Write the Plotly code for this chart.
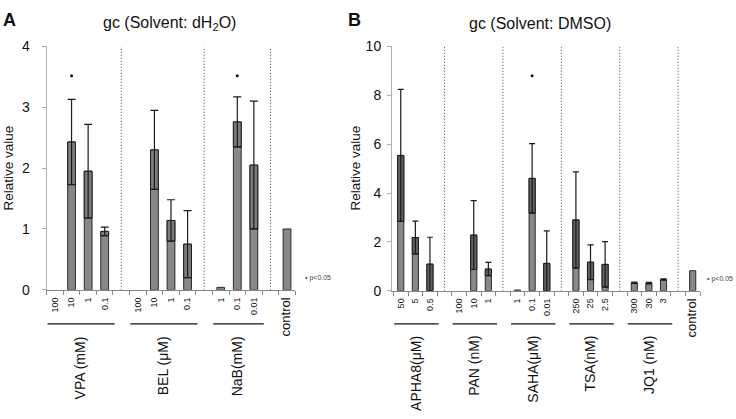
import plotly.graph_objects as go

# ---------------- data ----------------
A_groups = ["VPA (mM)", "BEL (μM)", "NaB(mM)"]
A_doses = [["100", "10", "1", "0.1"], ["100", "10", "1", "0.1"], ["1", "0.1", "0.01"]]
A_mean = [[0, 2.43, 1.95, 0.96], [0, 2.30, 1.14, 0.75], [0.04, 2.76, 2.05]]
A_err = [[0, 0.70, 0.77, 0.07], [0, 0.65, 0.34, 0.55], [0, 0.41, 1.05]]
A_star = [[None, 3.52, None, None], [None, None, None, None], [None, 3.52, None]]
A_control = 1.0

B_groups = ["APHA8(μM)", "PAN (nM)", "SAHA(μM)", "TSA(nM)", "JQ1 (nM)"]
B_doses = [["50", "5", "0.5"], ["100", "10", "1"], ["1", "0.1", "0.01"],
           ["250", "25", "2.5"], ["300", "30", "3"]]
B_mean = [[5.54, 2.18, 1.09], [0, 2.28, 0.89], [0.03, 4.60, 1.12],
          [2.90, 1.17, 1.08], [0.33, 0.31, 0.46]]
B_err = [[2.70, 0.67, 1.10], [0, 1.41, 0.27], [0, 1.42, 1.33],
         [1.97, 0.71, 0.93], [0.03, 0.03, 0.03]]
B_star = [[None] * 3, [None] * 3, [None, 8.8, None], [None] * 3, [None] * 3]
B_control = 0.82

FONT = "Liberation Sans, Arial, Helvetica, sans-serif"
W, H = 736, 419


def layout_groups(doses, mean, err, star, control):
    xs, labels, ms, es, st, seps, spans = [], [], [], [], [], [], []
    pos = 0
    for g, d in enumerate(doses):
        start = pos
        for i, lab in enumerate(d):
            xs.append(pos)
            labels.append(lab)
            ms.append(mean[g][i])
            es.append(err[g][i])
            st.append(star[g][i])
            pos += 1
        spans.append((start, pos - 1))
        seps.append(pos)
        pos += 1
    xs.append(pos)
    labels.append("<span style='font-size:13px'>control</span>")
    ms.append(control)
    es.append(0)
    st.append(None)
    return xs, labels, ms, es, st, seps, spans, pos


fig = go.Figure()

panels = [
    dict(name="A", groups=A_groups, doses=A_doses, mean=A_mean, err=A_err, star=A_star,
         control=A_control, xa="x", ya="y", ymax=4, dtick=1, bw=0.47, cap=4,
         xdom=[46.7 / W, 295.3 / W], xr=[-0.5, 14.5], ydom=[1 - 293 / H, 1 - 40 / H],
         standoff=9, boxcol="#7c7c7c"),
    dict(name="B", groups=B_groups, doses=B_doses, mean=B_mean, err=B_err, star=B_star,
         control=B_control, xa="x2", ya="y2", ymax=10, dtick=2, bw=0.42, cap=3,
         xdom=[392 / W, 700 / W], xr=[-0.6, 20.5], ydom=[1 - 294 / H, 1 - 40 / H],
         standoff=3, boxcol="#626262"),
]

shapes, annotations = [], []
for p in panels:
    xs, labels, ms, es, st, seps, spans, last = layout_groups(
        p["doses"], p["mean"], p["err"], p["star"], p["control"])
    # main bars (zero values are not drawn)
    mx = [x for x, m in zip(xs, ms) if m > 0]
    my = [m for m in ms if m > 0]
    fig.add_trace(go.Bar(x=mx, y=my, width=p["bw"], marker=dict(color="#888888",
                  line=dict(color="#2a2a2a", width=1)), xaxis=p["xa"], yaxis=p["ya"],
                  showlegend=False, hoverinfo="skip"))
    # darker box between mean-err and mean
    bx = [x for x, e in zip(xs, es) if e > 0.05]
    bb = [max(m - e, 0) for m, e in zip(ms, es) if e > 0.05]
    bh = [m - max(m - e, 0) for m, e in zip(ms, es) if e > 0.05]
    fig.add_trace(go.Bar(x=bx, y=bh, base=bb, width=p["bw"], marker=dict(color=p["boxcol"],
                  line=dict(color="#1e1e1e", width=1)), xaxis=p["xa"], yaxis=p["ya"],
                  showlegend=False, hoverinfo="skip"))
    # error bars
    ex = [x for x, e in zip(xs, es) if e > 0]
    ey = [m for m, e in zip(ms, es) if e > 0]
    ee = [e for e in es if e > 0]
    fig.add_trace(go.Scatter(x=ex, y=ey, mode="markers", marker=dict(size=0.1, color="rgba(0,0,0,0)"),
                  error_y=dict(type="data", array=ee, color="#1a1a1a", thickness=1.2, width=p["cap"]),
                  xaxis=p["xa"], yaxis=p["ya"], showlegend=False, hoverinfo="skip", cliponaxis=False))
    # significance stars
    sx = [x for x, s in zip(xs, st) if s is not None]
    sy = [s for s in st if s is not None]
    fig.add_trace(go.Scatter(x=sx, y=sy, mode="markers", marker=dict(size=3, color="#111"),
                  xaxis=p["xa"], yaxis=p["ya"], showlegend=False, hoverinfo="skip"))
    # dotted separators
    for s in seps:
        shapes.append(dict(type="line", xref=p["xa"], yref=p["ya"], x0=s, x1=s, y0=0,
                           y1=p["ymax"], line=dict(color="#444", width=1, dash="1px,2px")))
    # group underline + label
    for (a, b), gname in zip(spans, p["groups"]):
        shapes.append(dict(type="line", xref=p["xa"], yref="paper", x0=a - 0.45, x1=b + 0.6,
                           y0=1 - 328.5 / H, y1=1 - 328.5 / H, line=dict(color="#111", width=1.2)))
        annotations.append(dict(text=gname, x=(a + b) / 2, xref=p["xa"], y=1 - 339 / H, yref="paper",
                                textangle=-90, xanchor="center", yanchor="top", showarrow=False,
                                font=dict(size=14, color="#111", family=FONT)))
    boundaries = [x + 0.5 for x in range(-1, last + 1)]
    axis_x = dict(domain=p["xdom"], range=p["xr"], tickmode="array", tickvals=xs, ticktext=labels,
                  tickangle=-90, ticks="", showline=True, linecolor="#888", linewidth=1,
                  tickfont=dict(size=9, color="#111", family=FONT), showgrid=False, zeroline=False,
                  ticklabelstandoff=3, anchor=p["ya"],
                  minor=dict(tickmode="array", tickvals=boundaries, ticks="outside", ticklen=4,
                             tickcolor="#888", showgrid=False))
    axis_y = dict(domain=p["ydom"], range=[0, p["ymax"]], dtick=p["dtick"], tick0=0, showline=True,
                  linecolor="#b0b0b0", linewidth=1, ticks="outside", ticklen=4, tickcolor="#b0b0b0",
                  tickfont=dict(size=14, color="#111", family=FONT), showgrid=False, zeroline=False,
                  ticklabelstandoff=p["standoff"], anchor=p["xa"])
    if p["name"] == "A":
        fig.update_layout(xaxis=axis_x, yaxis=axis_y)
    else:
        fig.update_layout(xaxis2=axis_x, yaxis2=axis_y)

# titles, letters, axis titles, p-value notes
annotations += [
    dict(text="<b>A</b>", x=9 / W, y=1 - 12 / H, font=dict(size=18)),
    dict(text="<b>B</b>", x=354 / W, y=1 - 12 / H, font=dict(size=18)),
    dict(text="gc (Solvent: dH<sub>2</sub>O)", x=169 / W, y=1 - 16 / H, font=dict(size=16)),
    dict(text="gc (Solvent: DMSO)", x=540 / W, y=1 - 16 / H, font=dict(size=16)),
    dict(text="Relative value", x=9 / W, y=1 - 167 / H, textangle=-90, font=dict(size=13.5)),
    dict(text="Relative value", x=356 / W, y=1 - 167 / H, textangle=-90, font=dict(size=13.5)),
    dict(text="• p&lt;0.05", x=303 / W, y=1 - 281 / H, xanchor="left", font=dict(size=7, color="#444")),
    dict(text="• p&lt;0.05", x=705 / W, y=1 - 282 / H, xanchor="left", font=dict(size=7, color="#444")),
]
for a in annotations[-8:]:
    a.setdefault("xref", "paper")
    a.setdefault("yref", "paper")
    a.setdefault("showarrow", False)
    a.setdefault("xanchor", "center")
    a.setdefault("yanchor", "middle")
    a["font"].setdefault("color", "#111")
    a["font"]["family"] = FONT

fig.update_layout(width=W, height=H, margin=dict(l=0, r=0, t=0, b=0), barmode="overlay",
                  plot_bgcolor="white", paper_bgcolor="white", shapes=shapes, annotations=annotations,
                  font=dict(family=FONT, color="#111"), showlegend=False)

fig.write_html("out.html", config={"displayModeBar": False},
               post_script="document.body.style.margin='0';document.body.style.overflow='hidden';")
